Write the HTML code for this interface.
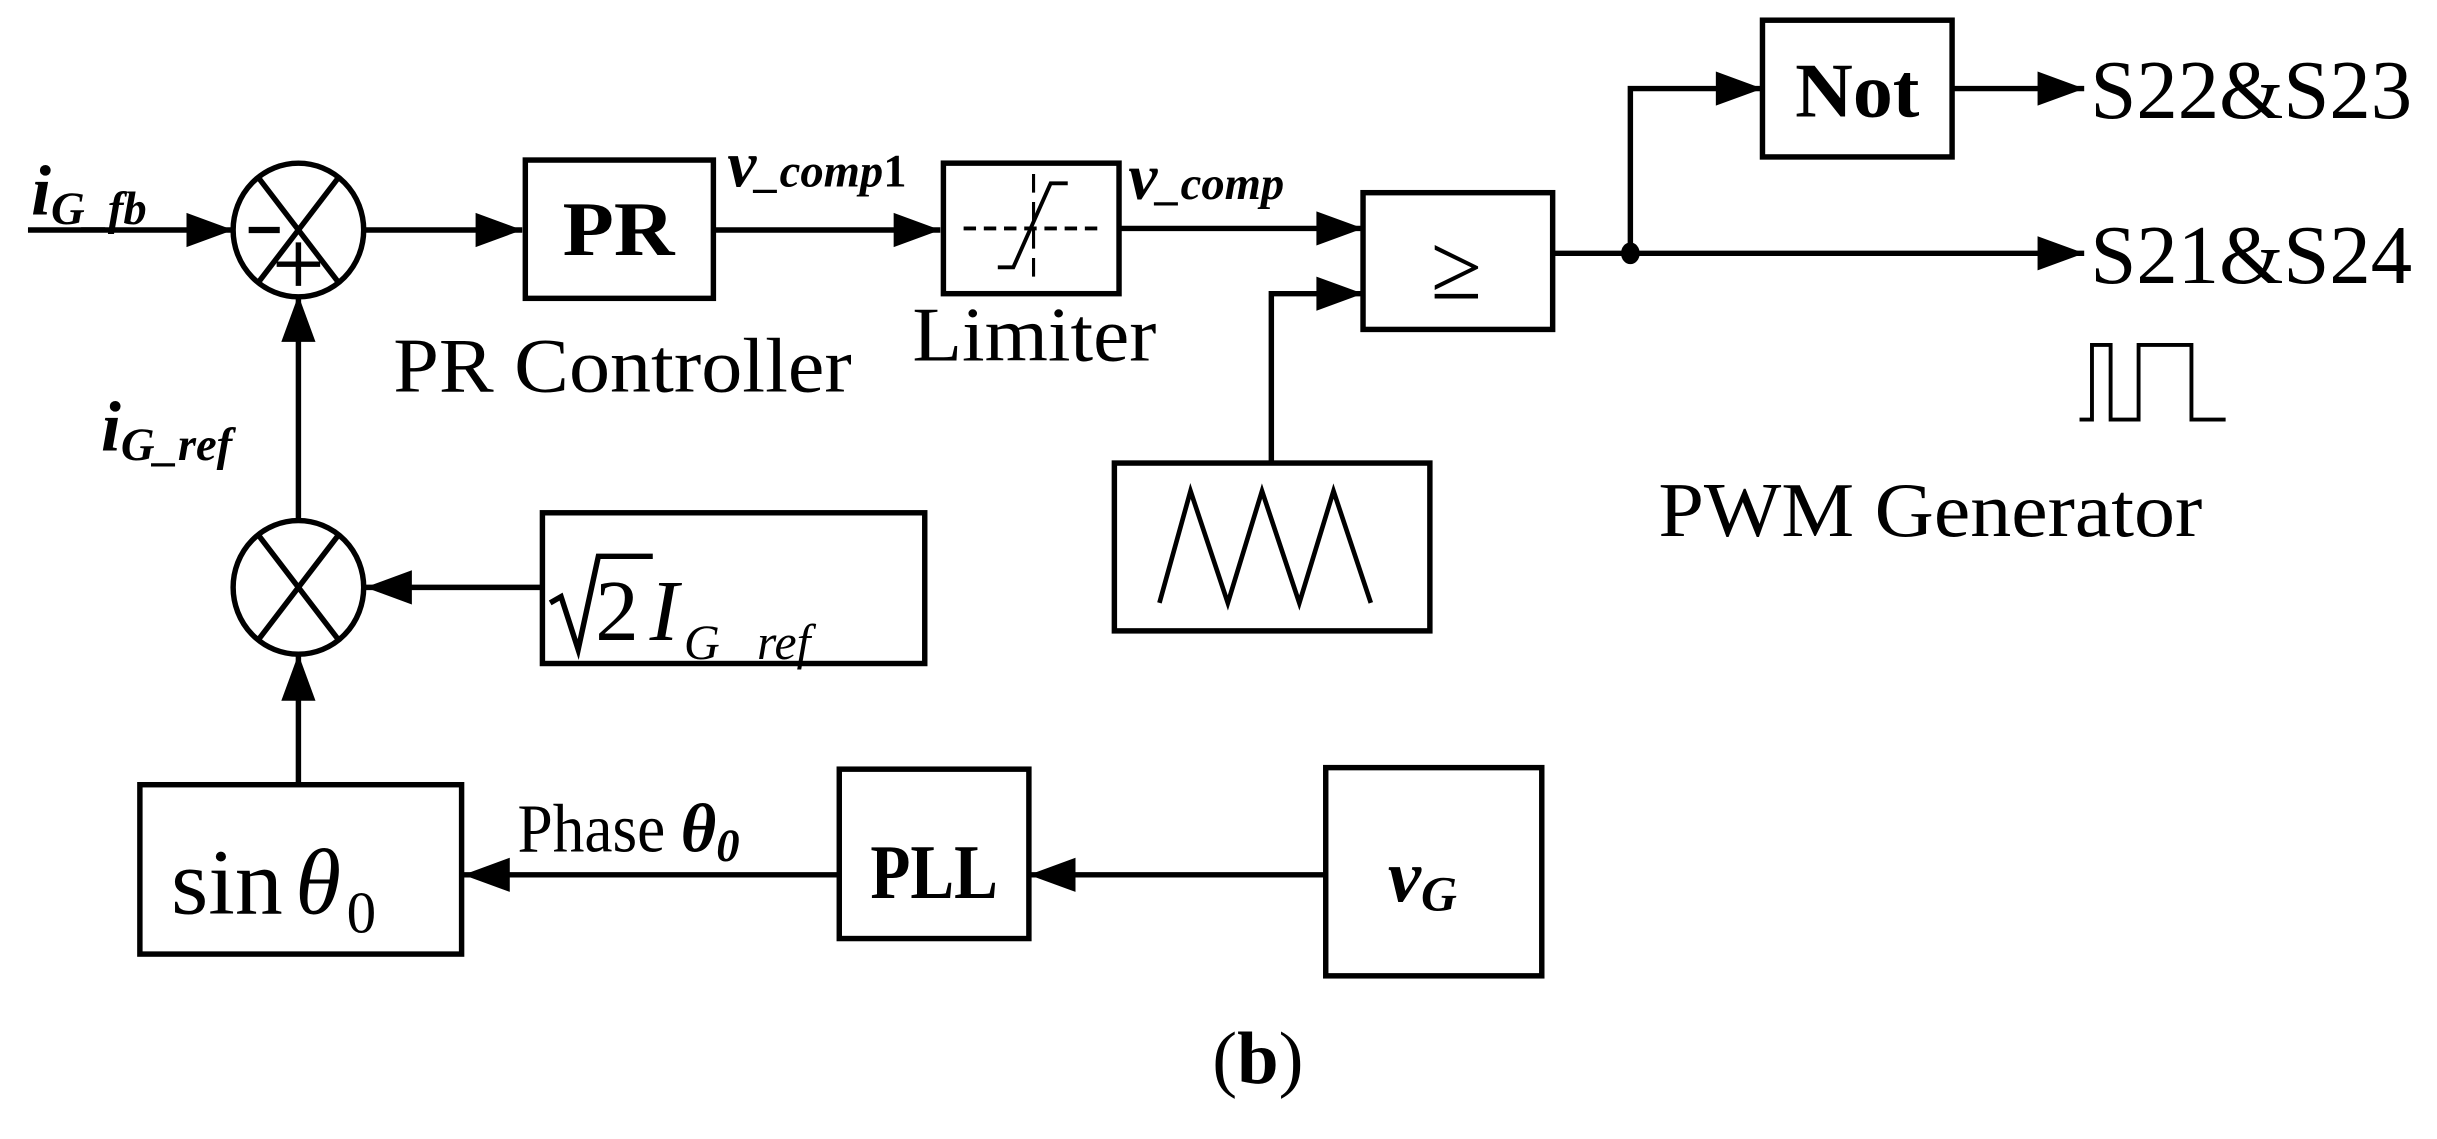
<!DOCTYPE html>
<html><head><meta charset="utf-8"><style>html,body{margin:0;padding:0;background:#fff}svg{display:block}</style></head>
<body>
<svg width="2437" height="1139" viewBox="0 0 1568 733" preserveAspectRatio="none" xmlns="http://www.w3.org/2000/svg" font-family="Liberation Serif, serif">
<g stroke="#000" stroke-width="3.5" fill="none">
<line x1="18" y1="148" x2="150" y2="148"/>
<path d="M120,137L150,148L120,159z" fill="#000" stroke="none"/>
<ellipse cx="192" cy="148" rx="42" ry="43"/>
<line x1="166" y1="114" x2="218" y2="182"/>
<line x1="218" y1="114" x2="166" y2="182"/>
<line x1="234" y1="148" x2="336" y2="148"/>
<path d="M306,137L336,148L306,159z" fill="#000" stroke="none"/>
<rect x="338" y="103" width="121" height="89"/>
<line x1="459" y1="148" x2="605" y2="148"/>
<path d="M575,137L605,148L575,159z" fill="#000" stroke="none"/>
<rect x="607" y="105" width="113" height="84"/>
<line x1="720" y1="147" x2="877" y2="147"/>
<path d="M847,136L877,147L847,158z" fill="#000" stroke="none"/>
<rect x="877" y="124" width="122" height="88"/>
<polyline points="818,298 818,189 877,189"/>
<path d="M847,178L877,189L847,200z" fill="#000" stroke="none"/>
<rect x="717" y="298" width="203" height="108"/>
<polyline points="746,388 766,316 790,388 812,316 836,388 858,316 882,388" stroke-width="3"/>
<line x1="999" y1="163" x2="1341" y2="163"/>
<path d="M1311,152L1341,163L1311,174z" fill="#000" stroke="none"/>
<polyline points="1049,163 1049,57 1134,57"/>
<path d="M1104,46L1134,57L1104,68z" fill="#000" stroke="none"/>
<rect x="1134" y="13" width="122" height="88"/>
<line x1="1256" y1="57" x2="1341" y2="57"/>
<path d="M1311,46L1341,57L1311,68z" fill="#000" stroke="none"/>
<polyline points="1338,270 1346,270 1346,222 1358,222 1358,270 1376,270 1376,222 1410,222 1410,270 1432,270" stroke-width="2.5"/>
<line x1="192" y1="336" x2="192" y2="190"/>
<path d="M181,220L192,190L203,220z" fill="#000" stroke="none"/>
<ellipse cx="192" cy="378" rx="42" ry="43"/>
<line x1="166" y1="344" x2="218" y2="412"/>
<line x1="218" y1="344" x2="166" y2="412"/>
<line x1="349" y1="378" x2="235" y2="378"/>
<path d="M265,367L235,378L265,389z" fill="#000" stroke="none"/>
<rect x="349" y="330" width="246" height="97"/>
<line x1="192" y1="505" x2="192" y2="421"/>
<path d="M181,451L192,421L203,451z" fill="#000" stroke="none"/>
<rect x="90" y="505" width="207" height="109"/>
<line x1="540" y1="563" x2="298" y2="563"/>
<path d="M328,552L298,563L328,574z" fill="#000" stroke="none"/>
<rect x="540" y="495" width="122" height="109"/>
<line x1="853" y1="563" x2="662" y2="563"/>
<path d="M692,552L662,563L692,574z" fill="#000" stroke="none"/>
<rect x="853" y="494" width="139" height="134"/>
<line x1="620" y1="147" x2="710" y2="147" stroke-dasharray="8,5" stroke-width="2.5"/>
<line x1="665" y1="112" x2="665" y2="182" stroke-dasharray="12,6" stroke-width="2"/>
<polyline points="642,172 652,172 676,118 687,118" stroke-width="2.5"/>
<polyline points="354,388 361,384 372,418 385,358 420,358" stroke-width="3.5"/>
</g>
<ellipse cx="1049" cy="163" rx="6" ry="7" fill="#000"/>
<line x1="160" y1="148" x2="180" y2="148" stroke="#000" stroke-width="4"/>
<line x1="178" y1="170" x2="206" y2="170" stroke="#000" stroke-width="3.5"/>
<line x1="192" y1="156" x2="192" y2="184" stroke="#000" stroke-width="3.5"/>
<g fill="#000">
<text x="20" y="138" font-size="46" font-style="italic" font-weight="bold">i<tspan font-size="30" dy="6">G_fb</tspan></text>
<text x="362" y="164" font-size="50" font-weight="bold" textLength="72" lengthAdjust="spacingAndGlyphs">PR</text>
<text x="468" y="120" font-size="42" font-style="italic" font-weight="bold">v<tspan font-size="30">_comp</tspan><tspan font-size="30" font-style="normal">1</tspan></text>
<text x="726" y="128" font-size="42" font-style="italic" font-weight="bold">v<tspan font-size="30">_comp</tspan></text>
<text x="937" y="192" font-size="60" text-anchor="middle">≥</text>
<text x="1195" y="75" font-size="50" font-weight="bold" text-anchor="middle" textLength="80" lengthAdjust="spacingAndGlyphs">Not</text>
<text x="1345" y="76" font-size="54" textLength="207" lengthAdjust="spacingAndGlyphs">S22&amp;S23</text>
<text x="1345" y="182" font-size="54" textLength="207" lengthAdjust="spacingAndGlyphs">S21&amp;S24</text>
<text x="1067" y="345" font-size="50" textLength="350" lengthAdjust="spacingAndGlyphs">PWM Generator</text>
<text x="253" y="252" font-size="50" textLength="295" lengthAdjust="spacingAndGlyphs">PR Controller</text>
<text x="587" y="232" font-size="50" textLength="157" lengthAdjust="spacingAndGlyphs">Limiter</text>
<text x="65" y="290" font-size="46" font-style="italic" font-weight="bold">i<tspan font-size="30" dy="6">G_ref</tspan></text>
<text x="383" y="412" font-size="56" textLength="28" lengthAdjust="spacingAndGlyphs">2</text>
<text x="418" y="412" font-size="56" font-style="italic">I</text>
<text x="440" y="424" font-size="32" font-style="italic">G _ref</text>
<text x="110" y="588" font-size="60" textLength="72" lengthAdjust="spacingAndGlyphs">sin</text>
<text x="190" y="588" font-size="60" font-style="italic">θ</text>
<text x="223" y="600" font-size="38">0</text>
<text x="333" y="548" font-size="44" textLength="95" lengthAdjust="spacingAndGlyphs">Phase</text>
<text x="438" y="548" font-size="44" font-style="italic" font-weight="bold">θ<tspan font-size="30" dy="6">0</tspan></text>
<text x="601" y="578" font-size="50" font-weight="bold" text-anchor="middle" textLength="82" lengthAdjust="spacingAndGlyphs">PLL</text>
<text x="893" y="580" font-size="48" font-style="italic" font-weight="bold">v<tspan font-size="32" dy="6">G</tspan></text>
<text x="780" y="697" font-size="48">(<tspan font-weight="bold">b</tspan>)</text>
</g>
</svg>
</body></html>
